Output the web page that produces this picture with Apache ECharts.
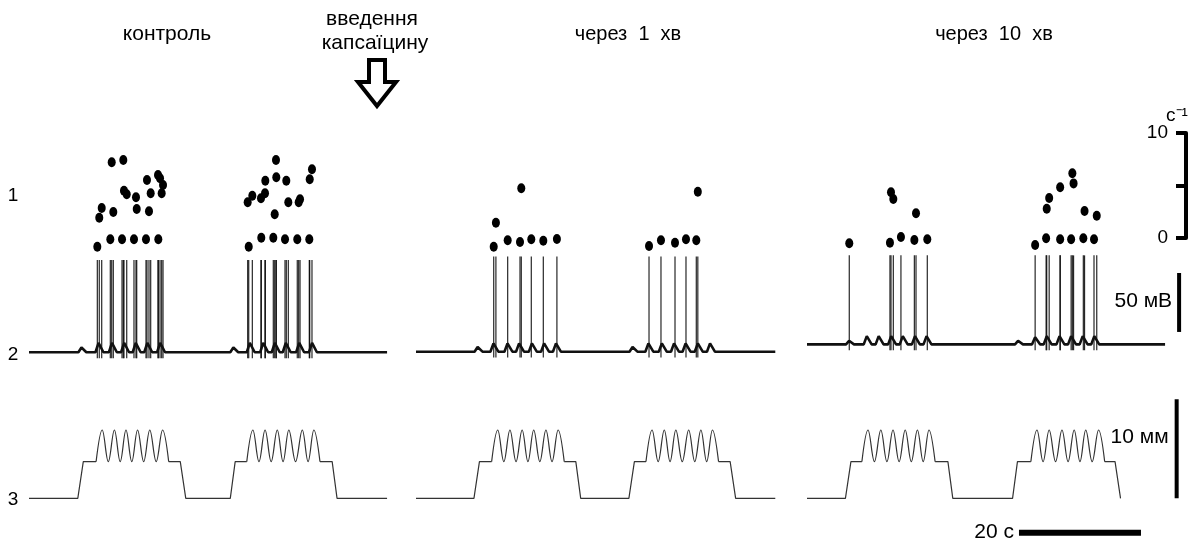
<!DOCTYPE html>
<html>
<head>
<meta charset="utf-8">
<script src="https://cdn.jsdelivr.net/npm/echarts@6/dist/echarts.min.js"></script>
<style>html,body{margin:0;background:#fff}#chart{width:1193px;height:544px}</style>
</head>
<body>
<div id="chart"></div>
<script>
// row 1: instantaneous frequency of each spike, [time s, с^-1]
const freq1 = [[11.2,-0.83],[11.52,1.93],[11.92,2.86],[13.33,-0.12],[13.56,7.21],[13.82,2.48],[15.25,-0.12],[15.46,7.43],[15.57,4.5],[16.02,4.16],[17.21,-0.12],[17.54,3.88],[17.66,2.76],[19.18,-0.12],[19.34,5.52],[19.67,2.54],[19.95,4.26],[21.2,-0.12],[21.15,6.0],[21.48,5.69],[21.75,4.26],[21.97,5.05],
  [36.02,-0.83],[35.85,3.4],[36.61,4.03],[38.08,0.03],[38.03,3.78],[38.69,4.26],[38.74,5.46],[40.05,0.03],[40.28,2.26],[40.49,7.43],[40.54,5.78],[41.97,-0.12],[42.18,5.46],[42.51,3.4],[43.98,-0.12],[44.21,3.4],[44.43,3.69],[45.95,-0.12],[46.02,5.59],[46.39,6.54]];
const freq2 = [[12.74,-0.83],[13.1,1.46],[15.03,-0.22],[17.05,-0.38],[17.26,4.73],[18.9,-0.12],[20.87,-0.26],[23.1,-0.1],
  [38.2,-0.76],[40.16,-0.22],[42.46,-0.45],[44.26,-0.12],[45.95,-0.22],[46.2,4.4]];
const freq3 = [[6.93,-0.5],[13.6,-0.45],[13.77,4.35],[14.15,3.71],[15.4,0.1],[17.6,-0.19],[17.87,2.35],[19.72,-0.12],
  [37.4,-0.67],[39.2,-0.03],[39.3,2.79],[39.7,3.81],[41.5,4.83],[41.5,-0.12],[43.3,-0.12],[43.5,6.16],[43.7,5.2],[45.3,-0.03],[45.5,2.57],[47.05,-0.12],[47.5,2.12]];

// row 2: membrane potential, mV (baseline, spike peak, bumps [time s, height mV])
const baseMv = [0, 0.5, 6.7];
const spikeTopMv = [78, 81, 82];
const traceEnd = [58.7, 58.9, 58.7];
const bumps1 = [[8.6,4],[11.4,8],[13.6,8],[15.6,8],[17.5,8],[19.4,8],[21.5,8],[33.5,4],[36.2,8],[38.4,8],[40.3,8],[42.1,8],[44.3,8],[46.4,8]];
const bumps2 = [[10.1,4],[12.7,7],[15.0,7],[16.9,7],[19.0,7],[21.0,7],[22.95,7],[35.5,4],[38.1,7],[40.3,7],[42.3,7],[44.2,7],[46.2,7],[48.2,7]];
const bumps3 = [[6.9,3],[9.8,7],[11.75,7],[13.8,7],[15.7,7],[17.7,7],[19.6,7],[34.6,3],[37.4,6],[39.3,7],[41.4,7],[43.3,7],[45.2,7],[47.1,7]];

// row 3: mechanical stimulus, mm (ramps + plateaus; null = sine part)
const stim1 = [[0,0],[8.0,0],[8.9,3.7],[11.0,3.7],null,[22.9,3.7],[24.8,3.7],[25.7,0],[33.0,0],[33.8,3.7],[35.7,3.7],null,[47.7,3.7],[49.7,3.7],[50.5,0],[58.7,0]];
const stim2 = [[0,0],[9.5,0],[10.4,3.7],[12.4,3.7],null,[24.3,3.7],[26.2,3.7],[27.0,0],[34.9,0],[35.8,3.7],[37.7,3.7],null,[49.6,3.7],[51.5,3.7],[52.4,0],[58.9,0]];
const stim3 = [[0,0],[6.3,0],[7.2,3.7],[9.0,3.7],null,[21.0,3.7],[23.1,3.7],[23.9,0],[33.7,0],[34.5,3.7],[36.7,3.7],null,[48.8,3.7],[50.5,3.7],[51.4,0]];
// sine on the plateau: troughs and peaks, time s
const sineT1 = [[11.0,12.0,13.0,14.0,14.95,15.9,16.85,17.8,18.8,19.8,20.85,21.9,22.9],[35.7,36.7,37.7,38.7,39.7,40.7,41.65,42.6,43.7,44.8,45.75,46.7,47.7]];
const sineT2 = [[12.4,13.4,14.4,15.4,16.4,17.4,18.35,19.3,20.3,21.3,22.3,23.3,24.3],[37.7,38.7,39.7,40.7,41.65,42.6,43.65,44.7,45.7,46.7,47.65,48.6,49.6]];
const sineT3 = [[9.0,10.0,11.05,12.1,13.1,14.1,15.1,16.1,17.1,18.1,19.05,20.0,21.0],[36.7,37.7,38.7,39.7,40.75,41.8,42.8,43.8,44.75,45.7,46.75,47.8,48.8]];
const plateauMm = 3.7, peakMm = 6.9;

const titles = ['контроль', 'через  1  хв', 'через  10  хв'];

const FONT = '"Liberation Sans", Arial, sans-serif';
const panelLeft = [29, 416, 807];
const PX_PER_S = 6.1, T_MAX = 62;
// rows: freq, mV, mm
const rows = [
  { top: 122.5, height: 126, min: -1, max: 11 },
  { top: 240, height: 130, min: -15, max: 95 },
  { top: 389.4, height: 148.5, min: -4, max: 11 },
];
const panels = [
  { freq: freq1, bumps: bumps1, stim: stim1, sine: sineT1 },
  { freq: freq2, bumps: bumps2, stim: stim2, sine: sineT2 },
  { freq: freq3, bumps: bumps3, stim: stim3, sine: sineT3 },
];

const chart = echarts.init(document.getElementById('chart'));
const grid = [], xAxis = [], yAxis = [], series = [];

panels.forEach((p, i) => {
  rows.forEach((r, j) => {
    grid.push({ left: panelLeft[i], top: r.top, width: T_MAX * PX_PER_S, height: r.height });
    xAxis.push({ type: 'value', gridIndex: i * 3 + j, min: 0, max: T_MAX, show: false });
    yAxis.push({ type: 'value', gridIndex: i * 3 + j, min: r.min, max: r.max, show: false });
  });
  const g = i * 3;
  // dots
  series.push({
    type: 'scatter', xAxisIndex: g, yAxisIndex: g, data: p.freq,
    symbol: 'circle', symbolSize: [8, 10], itemStyle: { color: '#000', opacity: 1 }, silent: true,
  });
  // membrane trace
  const b = baseMv[i];
  const pts = [[0, b]];
  p.bumps.forEach(([t, h]) => pts.push([t - 0.5, b], [t, b + h], [t + 0.8, b]));
  pts.push([traceEnd[i], b]);
  series.push({
    type: 'line', xAxisIndex: g + 1, yAxisIndex: g + 1, data: pts,
    symbol: 'none', lineStyle: { color: '#111', width: 2.6 }, silent: true,
  });
  // spikes
  series.push({
    type: 'custom', xAxisIndex: g + 1, yAxisIndex: g + 1, clip: false, silent: true,
    data: p.freq.map(d => [d[0], spikeTopMv[i], b - 5]),
    encode: { x: 0, y: 1 },
    renderItem: (params, api) => {
      const a = api.coord([api.value(0), api.value(2)]);
      const c = api.coord([api.value(0), api.value(1)]);
      return { type: 'line', shape: { x1: a[0], y1: a[1], x2: c[0], y2: c[1] },
        style: { stroke: '#000', lineWidth: 1.2, opacity: 0.85 } };
    },
  });
  // stimulus: straight parts
  let seg = [];
  p.stim.concat([null]).forEach(d => {
    if (d) { seg.push(d); return; }
    if (seg.length) series.push({
      type: 'line', xAxisIndex: g + 2, yAxisIndex: g + 2, data: seg,
      symbol: 'none', lineStyle: { color: '#333', width: 1.2 }, silent: true,
    });
    seg = [];
  });
  // stimulus: sine parts
  p.sine.forEach(ts => series.push({
    type: 'line', xAxisIndex: g + 2, yAxisIndex: g + 2,
    data: ts.map((t, k) => [t, k % 2 ? peakMm : plateauMm]),
    smooth: 0.38, symbol: 'none', lineStyle: { color: '#333', width: 1.2 }, silent: true,
  }));
});

// scale bars, drawn in panel 3 units
const gMv = 7, gMm = 8;
const barStyle = { type: 'line', symbol: 'none', silent: true, clip: false };
series.push({ ...barStyle, xAxisIndex: gMv, yAxisIndex: gMv, data: [[61, 17.2], [61, 67.1]], lineStyle: { color: '#000', width: 4 } });
series.push({ ...barStyle, xAxisIndex: gMm, yAxisIndex: gMm, data: [[60.6, 0], [60.6, 10]], lineStyle: { color: '#000', width: 4 } });
series.push({ ...barStyle, xAxisIndex: gMm, yAxisIndex: gMm, data: [[34.75, -3.47], [54.75, -3.47]], lineStyle: { color: '#000', width: 6 } });
const lbl = (ax, pt, text, dist) => ({
  type: 'scatter', xAxisIndex: ax, yAxisIndex: ax, data: [pt], symbolSize: 0, silent: true,
  itemStyle: { opacity: 1 },
  label: { show: true, position: 'left', distance: dist, formatter: text, color: '#000', fontSize: 21, fontFamily: FONT },
});
series.push(lbl(gMv, [61, 43], '50 мВ', 7));
series.push(lbl(gMm, [60.6, 6.2], '10 мм', 8));
series.push(lbl(gMm, [34.75, -3.47], '20 с', 5));

// frequency scale bar (с^-1)
grid.push({ left: 1186, top: 133, width: 1, height: 105 });
xAxis.push({ type: 'value', gridIndex: 9, show: false });
yAxis.push({
  type: 'value', gridIndex: 9, min: 0, max: 10, interval: 5, position: 'left',
  axisLine: { show: true, lineStyle: { color: '#000', width: 4 } },
  axisTick: { show: true, length: 10, lineStyle: { color: '#000', width: 4 } },
  axisLabel: { margin: 18, color: '#000', fontSize: 19, fontFamily: FONT, formatter: v => (v === 5 ? '' : v) },
  splitLine: { show: false },
});

const txt = (x, y, text, size) => ({
  type: 'text', x, y, silent: true,
  style: { text, fill: '#000', fontSize: size || 20, fontFamily: FONT, align: 'center', verticalAlign: 'middle' },
});

chart.setOption({
  animation: false,
  grid, xAxis, yAxis, series,
  graphic: [
    txt(167, 34, titles[0], 21),
    txt(628, 34, titles[1]),
    txt(994, 34, titles[2]),
    txt(372, 19, 'введення', 21),
    txt(375, 43, 'капсаїцину', 21),
    txt(1177, 116, 'с⁻¹', 19),
    txt(13, 196, '1', 19),
    txt(13, 355, '2', 19),
    txt(13, 500, '3', 19),
    {
      type: 'polygon', silent: true,
      shape: { points: [[369, 60], [385, 60], [385, 82], [396, 82], [377, 106], [358, 82], [369, 82]] },
      style: { fill: '#fff', stroke: '#000', lineWidth: 4, lineJoin: 'miter' },
    },
  ],
});
</script>
</body>
</html>
